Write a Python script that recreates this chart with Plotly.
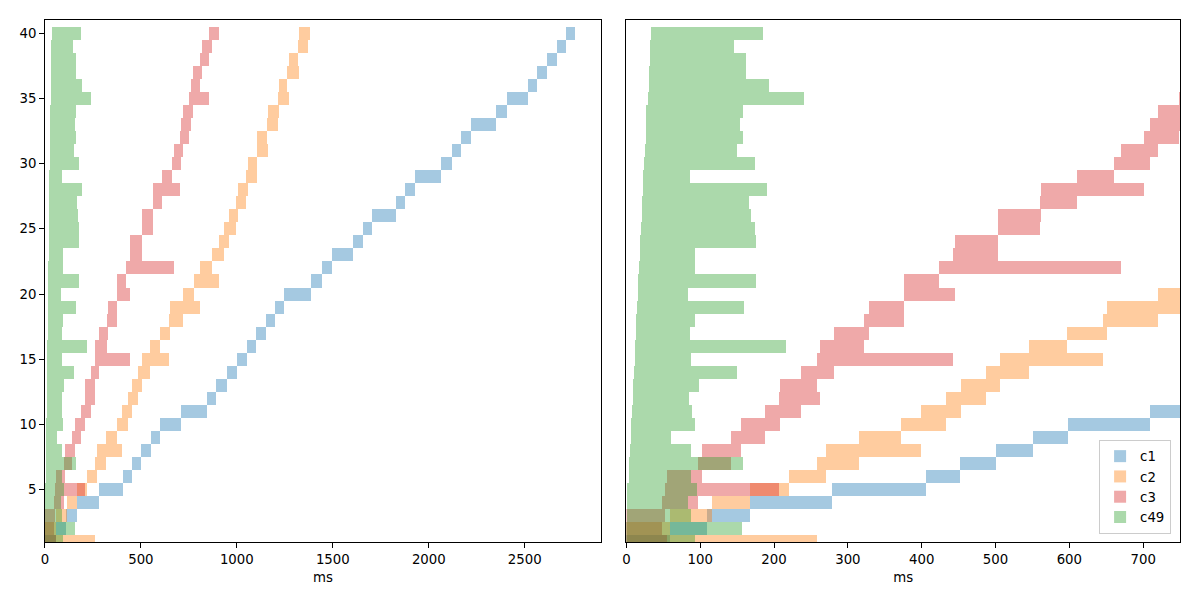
import plotly.graph_objects as go

rows = list(range(1, 41))

c1_start = [0, 59, 110, 168, 279, 407, 453, 501, 551, 599, 710, 843, 893, 946, 999, 1051, 1098, 1149, 1196, 1243,
            1383, 1442, 1494, 1603, 1656, 1702, 1826, 1873, 1926, 2061, 2119, 2166, 2217, 2348, 2405, 2515, 2562, 2613, 2665, 2712]
c1_end = [59, 110, 168, 279, 407, 453, 501, 551, 599, 710, 843, 893, 946, 999, 1051, 1098, 1149, 1196, 1243, 1383,
          1442, 1494, 1603, 1656, 1702, 1826, 1873, 1926, 2061, 2119, 2166, 2217, 2348, 2405, 2515, 2562, 2613, 2665, 2712, 2759]

c2_start = [0, 0, 59, 117, 168, 221, 259, 271, 316, 373, 400, 433, 454, 487, 506, 546, 598, 646, 651, 721,
            775, 805, 869, 905, 931, 957, 993, 1004, 1046, 1055, 1102, 1102, 1154, 1160, 1212, 1218, 1263, 1269, 1316, 1321]
c2_end = [259, 59, 117, 168, 221, 271, 316, 400, 373, 433, 454, 487, 506, 546, 646, 598, 651, 721, 805, 775,
          905, 869, 931, 957, 993, 1004, 1046, 1055, 1102, 1102, 1160, 1154, 1212, 1218, 1269, 1263, 1321, 1316, 1368, 1380]

c3_start = [0, 0, 0, 49, 53.5, 55, 98, 103.5, 142.5, 156, 188.5, 207, 209, 237, 258.5, 262.5, 281.5, 322, 328.5, 377,
            377, 424, 443.5, 445, 504, 504, 561, 562, 611, 661, 670, 702, 710, 721, 749, 758, 770, 805, 817, 852]
c3_end = [55, 49, 53.5, 98, 207, 103.5, 142.5, 156, 188.5, 209, 237, 262.5, 258.5, 281.5, 443.5, 322, 328.5, 377, 377, 445,
          424, 670, 504, 504, 561, 562, 611, 702, 661, 710, 721, 749, 758, 770, 852, 805, 817, 852, 869, 905]

c49_start = [0, 0.4, 0.9, 1.9, 1.9, 3.4, 3.4, 4.9, 6.3, 6.3, 7.8, 9.2, 9.2, 10.2, 11.7, 11.7, 13.1, 13.1, 14.6, 15.6,
             15.6, 17, 18.5, 18.5, 19.9, 21.4, 21.4, 22.4, 22.4, 23.8, 25.3, 26.7, 26.7, 27.7, 29.2, 30.6, 31.1, 32.1, 33.1, 34.5]
c49_end = [93, 157.5, 88.5, 84.5, 96.5, 88.5, 159, 88.5, 60.3, 93, 90, 86, 99, 150.7, 88.5, 216.8, 87, 93, 160, 84.6,
           176.5, 93, 93, 176.5, 175, 169.7, 166.7, 191, 87, 175, 150.7, 159, 154.6, 159, 241, 194, 163, 163, 146.8, 185.7]

series = [
    ("c1", c1_start, c1_end, "rgba(31,119,180,0.4)"),
    ("c2", c2_start, c2_end, "rgba(255,127,14,0.4)"),
    ("c3", c3_start, c3_end, "rgba(214,39,40,0.4)"),
    ("c49", c49_start, c49_end, "rgba(44,160,44,0.4)"),
]

fig = go.Figure()
for xa, ya, show in (("x", "y", False), ("x2", "y2", True)):
    for name, s, e, col in series:
        fig.add_trace(go.Bar(
            y=rows, base=s, x=[b - a for a, b in zip(s, e)],
            orientation="h", width=1, name=name,
            marker=dict(color=col, line=dict(width=0)),
            xaxis=xa, yaxis=ya, showlegend=show,
        ))

font = dict(family="DejaVu Sans", size=13.3, color="black")
axis_common = dict(showline=True, mirror=True, linecolor="black", linewidth=1.07,
                   ticklen=4.7, tickwidth=1.07, tickcolor="black",
                   showgrid=False, zeroline=False, tickfont=font)

fig.update_layout(
    width=1200, height=600, margin=dict(l=0, r=0, t=0, b=0),
    paper_bgcolor="white", plot_bgcolor="white",
    barmode="overlay", bargap=0, font=font,
    xaxis=dict(domain=[41 / 1200, 599 / 1200], range=[0, 2897], ticks="outside",
               tickvals=[0, 500, 1000, 1500, 2000, 2500],
               title=dict(text="ms", font=font, standoff=6), anchor="y", **axis_common),
    yaxis=dict(domain=[1 - 542 / 600, 1 - 20 / 600], range=[1, 41], ticks="outside",
               tickvals=[5, 10, 15, 20, 25, 30, 35, 40], anchor="x", **axis_common),
    xaxis2=dict(domain=[624.5 / 1200, 1180 / 1200], range=[0, 750], ticks="outside",
                tickvals=[0, 100, 200, 300, 400, 500, 600, 700],
                title=dict(text="ms", font=font, standoff=6), anchor="y2", **axis_common),
    yaxis2=dict(domain=[1 - 542 / 600, 1 - 20 / 600], range=[1, 41], ticks="",
                showticklabels=False, anchor="x2", **axis_common),
    legend=dict(x=1171 / 1200, y=1 - 534 / 600, xanchor="right", yanchor="bottom",
                bgcolor="rgba(255,255,255,0.8)", bordercolor="#cccccc", borderwidth=1,
                font=font, itemwidth=30, tracegroupgap=0),
)

fig.write_html("out.html")
